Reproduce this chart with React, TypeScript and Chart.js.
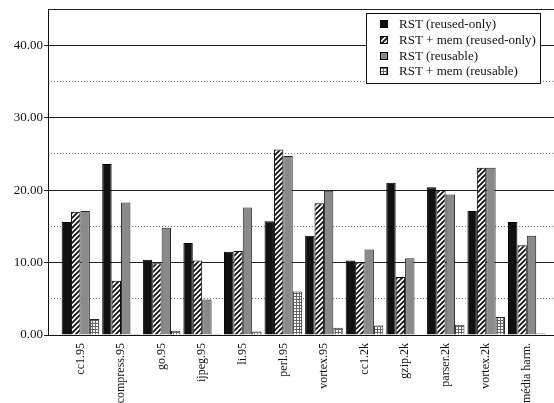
import React, { useEffect, useRef } from 'react';
import { Chart, registerables } from 'chart.js';

Chart.register(...registerables);

const categories = [
  'cc1.95', 'compress.95', 'go.95', 'ijpeg.95', 'li.95', 'perl.95',
  'vortex.95', 'cc1.2k', 'gzip.2k', 'parser.2k', 'vortex.2k', 'média harm.',
];
const seriesNames = [
  'RST (reused-only)',
  'RST + mem (reused-only)',
  'RST (reusable)',
  'RST + mem (reusable)',
];
const rstReusedOnly = [15.6, 23.6, 10.4, 12.7, 11.5, 15.7, 13.7, 10.3, 21.0, 20.4, 17.1, 15.6];
const memReusedOnly = [17.0, 7.5, 9.9, 10.3, 11.6, 25.6, 18.2, 10.0, 8.0, 20.0, 23.1, 12.4];
const rstReusable = [17.1, 18.3, 14.8, 4.9, 17.6, 24.7, 19.9, 11.8, 10.6, 19.4, 23.1, 13.7];
const memReusable = [2.2, 0.15, 0.6, 0.15, 0.5, 6.0, 1.0, 1.3, 0, 1.4, 2.5, 0.2];
const yMax = 45;
const yMajorStep = 10;
const yMinorStep = 5;

const FONT = '"Liberation Serif", "Times New Roman", serif';

function makeHatch(): CanvasPattern | string {
  const c = document.createElement('canvas');
  c.width = 5;
  c.height = 5;
  const g = c.getContext('2d');
  if (!g) return '#777';
  g.fillStyle = '#fff';
  g.fillRect(0, 0, 5, 5);
  g.strokeStyle = '#111';
  g.lineWidth = 1.8;
  g.beginPath();
  g.moveTo(-1, 6); g.lineTo(6, -1);
  g.moveTo(-1, 1); g.lineTo(1, -1);
  g.moveTo(4, 6); g.lineTo(6, 4);
  g.stroke();
  return g.createPattern(c, 'repeat') || '#777';
}

function makeChecker(): CanvasPattern | string {
  const c = document.createElement('canvas');
  c.width = 3;
  c.height = 3;
  const g = c.getContext('2d');
  if (!g) return '#ccc';
  g.fillStyle = '#666';
  g.fillRect(0, 0, 3, 3);
  g.fillStyle = '#fff';
  g.fillRect(0, 0, 2, 2);
  return g.createPattern(c, 'repeat') || '#ccc';
}

const boxLegend = {
  id: 'boxLegend',
  afterDraw(chart: any) {
    const { ctx, chartArea } = chart;
    const w = 174;
    const h = 70;
    const x0 = chartArea.right - 14 - w;
    const y0 = chartArea.top + 3.5;
    ctx.save();
    ctx.fillStyle = '#fff';
    ctx.fillRect(x0, y0, w, h);
    ctx.strokeStyle = '#111';
    ctx.lineWidth = 1;
    ctx.strokeRect(Math.round(x0) + 0.5, Math.round(y0) + 0.5, w, h);
    ctx.font = '13px ' + FONT;
    ctx.textBaseline = 'middle';
    chart.data.datasets.forEach((ds: any, i: number) => {
      const cy = y0 + 11.5 + i * 15.8;
      const sx = x0 + 14;
      ctx.fillStyle = ds.backgroundColor;
      ctx.fillRect(sx, Math.round(cy - 4), 8, 8);
      ctx.strokeStyle = '#000';
      ctx.strokeRect(sx + 0.5, Math.round(cy - 4) + 0.5, 7, 7);
      ctx.fillStyle = '#111';
      ctx.fillText(ds.label, x0 + 33, cy + 0.5);
    });
    ctx.restore();
  },
};

export default function App() {
  const ref = useRef<HTMLCanvasElement | null>(null);

  useEffect(() => {
    if (!ref.current) return;
    Chart.defaults.font.family = FONT;
    const toXY = (arr: number[]) => arr.map((v, i) => ({ x: i, y: v }));
    const chart = new Chart(ref.current, {
      type: 'bar',
      data: {
        datasets: [
          { label: seriesNames[0], data: toXY(rstReusedOnly), backgroundColor: '#111', borderColor: '#000', borderWidth: 1 },
          { label: seriesNames[1], data: toXY(memReusedOnly), backgroundColor: makeHatch(), borderColor: '#000', borderWidth: 1 },
          { label: seriesNames[2], data: toXY(rstReusable), backgroundColor: '#8a8a8a', borderColor: '#222', borderWidth: 1 },
          { label: seriesNames[3], data: toXY(memReusable), backgroundColor: makeChecker(), borderColor: '#222', borderWidth: 1 },
        ] as any,
      },
      options: {
        responsive: false,
        animation: false,
        layout: { padding: { top: 9, left: 0, right: 0, bottom: 0 } },
        datasets: { bar: { categoryPercentage: 0.927, barPercentage: 1 } },
        plugins: { legend: { display: false }, tooltip: { enabled: false } },
        scales: {
          x: {
            type: 'linear',
            offset: false,
            min: -0.8,
            max: categories.length - 0.33,
            grid: { display: false, drawTicks: false },
            border: { display: true, color: '#111', width: 1 },
            ticks: {
              stepSize: 1,
              autoSkip: false,
              maxRotation: 90,
              minRotation: 90,
              padding: 8,
              color: '#111',
              font: { size: 12, family: FONT },
              callback: (v: any) =>
                Number.isInteger(v) && categories[v] !== undefined ? categories[v] : null,
            },
            afterFit: (s: any) => { s.height = 68; },
          },
          y: {
            min: 0,
            max: yMax,
            position: 'left',
            grid: {
              color: '#222',
              lineWidth: 1,
              tickLength: 4,
              tickColor: (c: any) => (c.tick && c.tick.value === yMax ? 'rgba(0,0,0,0)' : '#222'),
            },
            border: { display: true, color: '#111', width: 1 },
            ticks: {
              stepSize: yMajorStep,
              padding: 1,
              color: '#111',
              font: { size: 13, family: FONT },
              callback: (v: any) => (v % yMajorStep === 0 ? Number(v).toFixed(2) : ''),
            },
            afterFit: (s: any) => { s.width = 48; },
          },
          y2: {
            min: 0,
            max: yMax,
            position: 'left',
            grid: {
              drawTicks: false,
              lineWidth: 1,
              color: (c: any) => {
                const v = c.tick ? c.tick.value : 0;
                return v % yMajorStep === 0 || v === yMax ? 'rgba(0,0,0,0)' : '#777';
              },
            },
            border: { display: false, dash: [1, 2] },
            ticks: { display: false, stepSize: yMinorStep },
            afterFit: (s: any) => { s.width = 0; },
          },
        },
      } as any,
      plugins: [boxLegend],
    });
    return () => chart.destroy();
  }, []);

  return (
    <div style={{ position: 'absolute', left: 0, top: 0, width: 554, height: 403, background: '#fff' }}>
      <canvas ref={ref} width={554} height={403} />
    </div>
  );
}
